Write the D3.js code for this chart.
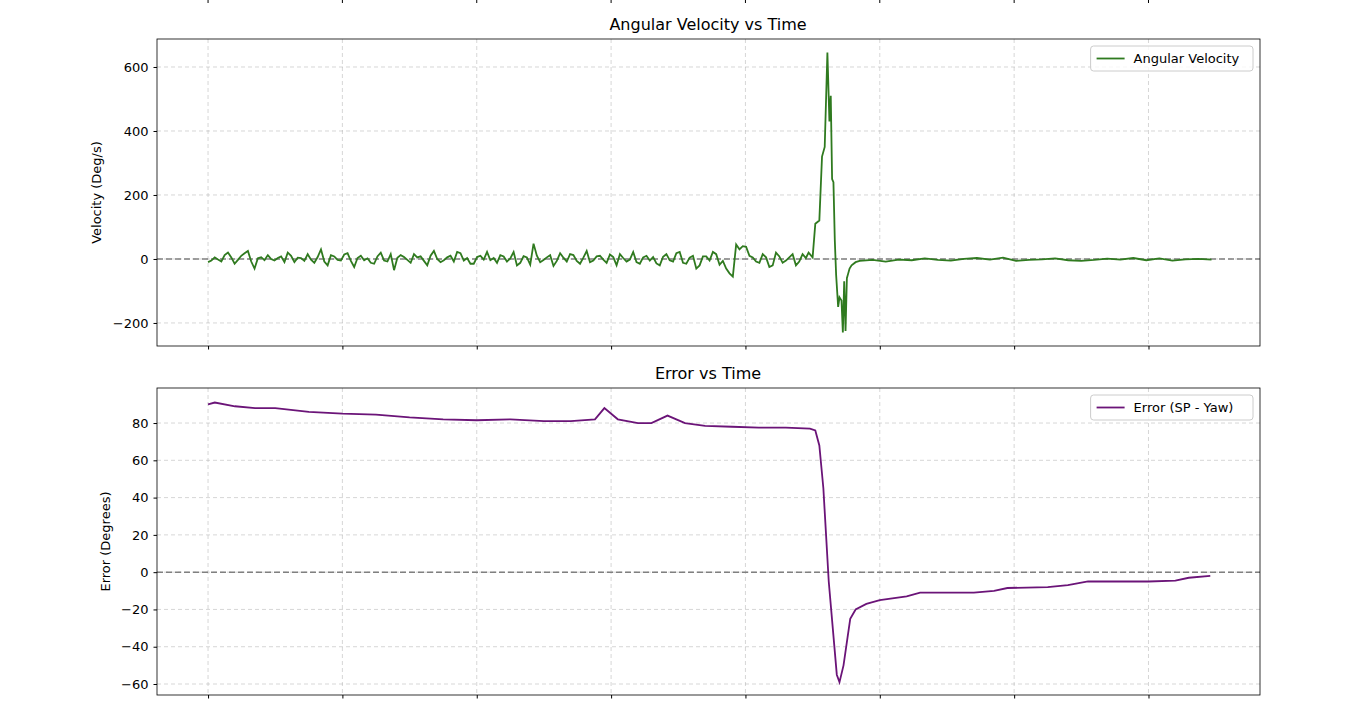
<!DOCTYPE html><html><head><meta charset="utf-8"><script src="https://cdn.jsdelivr.net/npm/d3@7"></script>
<style>body{margin:0;background:#fff}text{font-family:"DejaVu Sans",sans-serif}</style></head><body><svg id="c" width="1372" height="708"></svg>
<script>
const velNoise=[-10,-5,5,-2,-8,12,20,5,-15,-3,10,18,25,-8,-30,2,5,-4,12,0,-5,3,8,-10,20,10,-10,4,3,-6,15,-2,-12,6,30,-8,-20,12,8,-3,-5,14,18,-6,-25,3,10,-4,2,-12,-15,8,20,-5,-8,15,-35,4,12,6,-3,-12,15,5,8,-6,-20,10,25,0,-10,-4,5,10,-8,22,18,-5,3,-15,-15,6,10,-2,22,-4,3,-12,12,8,-8,2,22,-20,-12,9,5,-18,48,10,-10,-3,5,12,-22,-6,18,4,-8,15,12,-6,-15,4,25,-10,-5,8,10,-2,-12,14,6,-20,15,3,-8,-2,22,-10,-15,5,10,-5,6,-14,-20,7,15,-4,-8,18,22,-12,-15,4,10,-30,-20,8,8,-5,22,15,-18,-6,-30,-45,-55,45,30,40,38,10,5,-8,-12,15,5,-25,-20,20,8,-12,-5,5,15,-20,-8,15,3];
const velSpikeT=[4.47,4.5,4.52,4.55,4.57,4.59,4.61,4.625,4.635,4.645,4.655,4.665,4.675,4.69,4.70,4.715,4.725,4.735,4.745,4.755,4.765,4.775,4.79,4.82];
const velSpikeV=[20,5,110,120,320,350,645,430,510,250,240,60,-50,-150,-120,-130,-230,-70,-225,-60,-45,-30,-20,-10];
const velTail=[-6,-3,-8,-2,-4,2,-3,-5,0,3,-2,4,-6,-3,-1,2,-4,-6,-3,1,-2,3,-4,2,-5,-1,0,-2];
const errT=[0,0.05,0.2,0.35,0.5,0.75,1,1.25,1.5,1.75,2,2.25,2.5,2.7,2.88,2.95,3.05,3.2,3.3,3.42,3.55,3.7,3.9,4.1,4.3,4.48,4.52,4.55,4.58,4.6,4.62,4.65,4.68,4.7,4.73,4.76,4.78,4.82,4.9,5.0,5.2,5.3,5.7,5.85,5.95,6.25,6.4,6.55,7.0,7.2,7.3,7.46];
const errV=[90,91,89,88,88,86,85,84.5,83,82,81.5,82,81,81,82,88,82,80,80,84,80,78.5,78,77.5,77.5,77,76,68,45,20,-5,-30,-55,-59,-50,-35,-25,-20,-17,-15,-13,-11,-11,-10,-8.5,-8,-7,-5,-5,-4.5,-3,-2];
const xTicks=[0,1,2,3,4,5,6,7];
const velTicks=[-200,0,200,400,600];
const errTicks=[-60,-40,-20,0,20,40,60,80];

const vel=[];
const step=4.45/(velNoise.length-1);
velNoise.forEach((v,i)=>vel.push([i*step,v]));
velSpikeT.forEach((t,i)=>vel.push([t,velSpikeV[i]]));
velTail.forEach((v,i)=>vel.push([4.85+i*0.097,v]));
const err=errT.map((t,i)=>[t,errV[i]]);

const svg=d3.select("#c");
const x=d3.scaleLinear().domain([-0.38,7.83]).range([157,1260]);
svg.append("g").selectAll("line").data(xTicks).join("line").attr("x1",d=>x(d)).attr("x2",d=>x(d)).attr("y1",0).attr("y2",3).attr("stroke","#000");
function panel(top,bot,dom,ticks,data,color,title,ylab,leg){
  const y=d3.scaleLinear().domain(dom).range([bot,top]);
  const g=svg.append("g");
  g.selectAll(".gx").data(xTicks).join("line").attr("x1",d=>x(d)).attr("x2",d=>x(d)).attr("y1",top).attr("y2",bot).attr("stroke","#b0b0b0").attr("stroke-opacity",0.5).attr("stroke-dasharray","4,3");
  g.selectAll(".gy").data(ticks).join("line").attr("x1",157).attr("x2",1260).attr("y1",d=>y(d)).attr("y2",d=>y(d)).attr("stroke","#b0b0b0").attr("stroke-opacity",0.5).attr("stroke-dasharray","4,3");
  g.append("line").attr("x1",157).attr("x2",1260).attr("y1",y(0)).attr("y2",y(0)).attr("stroke","#808080").attr("stroke-width",1.5).attr("stroke-dasharray","6,3");
  g.append("path").datum(data).attr("d",d3.line().x(d=>x(d[0])).y(d=>y(d[1]))).attr("fill","none").attr("stroke",color).attr("stroke-width",1.8);
  g.append("rect").attr("x",157).attr("y",top).attr("width",1103).attr("height",bot-top).attr("fill","none").attr("stroke","#000").attr("stroke-width",0.8);
  const ya=g.append("g").attr("transform","translate(157,0)").call(d3.axisLeft(y).tickValues(ticks).tickSize(3.5).tickPadding(5).tickFormat(d=>d<0?"\u2212"+(-d):d));
  ya.select(".domain").remove(); ya.selectAll("text").attr("font-size",13).attr("font-family","DejaVu Sans");
  const xa=g.append("g").attr("transform",`translate(0,${bot})`).call(d3.axisBottom(x).tickValues(xTicks).tickSize(3.5).tickFormat(""));
  xa.select(".domain").remove();
  g.append("text").attr("x",708).attr("y",top-9).attr("text-anchor","middle").attr("font-size",16).text(title);
  g.append("text").attr("transform",`translate(${top<100?101:110},${(top+bot)/2}) rotate(-90)`).attr("text-anchor","middle").attr("font-size",13).text(ylab);
  const w=leg.length*6.9+52;
  g.append("rect").attr("x",1253-w).attr("y",top+7).attr("width",w).attr("height",25).attr("rx",3).attr("fill","#fff").attr("fill-opacity",0.8).attr("stroke","#ccc");
  g.append("line").attr("x1",1253-w+6).attr("x2",1253-w+34).attr("y1",top+19.5).attr("y2",top+19.5).attr("stroke",color).attr("stroke-width",1.8);
  g.append("text").attr("x",1253-w+43).attr("y",top+24).attr("font-size",13).text(leg);
}
panel(39,346,[-272,687.5],velTicks,vel,"#2f7a1f","Angular Velocity vs Time","Velocity (Deg/s)","Angular Velocity");
panel(388,695,[-65.9,98.8],errTicks,err,"#6b1478","Error vs Time","Error (Degrees)","Error (SP - Yaw)");
</script></body></html>
